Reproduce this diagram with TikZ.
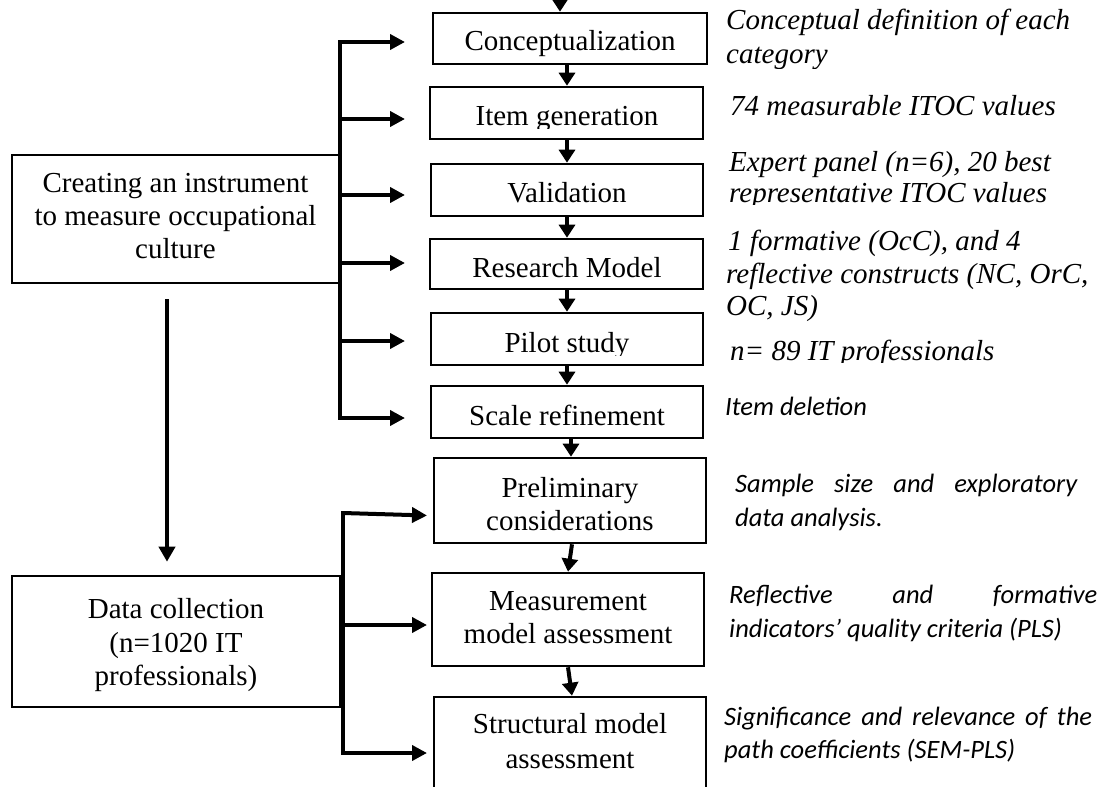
\documentclass[tikz,border=0pt]{standalone}
\usepackage{fontspec}
\setmainfont{Liberation Serif}
\newfontfamily\calib{Carlito}
\usetikzlibrary{arrows.meta}

\tikzset{
  box/.style={draw, line width=2.6pt, inner sep=0pt},
  boxtxt/.style={anchor=base, inner sep=0pt, font=\fontsize{29}{33}\selectfont},
  note/.style={anchor=base west, inner sep=0pt, font=\fontsize{29}{33}\selectfont\itshape},
  cnote/.style={anchor=base west, inner sep=0pt, font=\calib\fontsize{26.5}{32}\selectfont\itshape},
  link/.style={line width=4pt, -{Triangle[length=13pt,width=16pt]}},
  feed/.style={line width=4pt, -{Triangle[length=15pt,width=15pt]}},
  rail/.style={line width=4pt, line cap=rect},
}

\begin{document}
\begin{tikzpicture}[x=1pt, y=-1pt]
\useasboundingbox (0,0) rectangle (1109,787);
\clip (0,0) rectangle (1109,787);

% helper columns
\coordinate (top) at (560,-20);
\coordinate (ax) at (567,0);
\coordinate (bx) at (571,0);
\coordinate (tipA) at (405,0);
\coordinate (railB) at (343,0);
\coordinate (tipB) at (427,0);
\coordinate (vx) at (167,0);

% process steps
\node[box, minimum width=274pt, minimum height=51pt] (c1) at (570,38.5) {};
\node[box, minimum width=273pt, minimum height=52pt] (c2) at (566.5,113) {};
\node[box, minimum width=272pt, minimum height=52pt] (c3) at (567,190) {};
\node[box, minimum width=273pt, minimum height=50pt] (c4) at (566.5,264) {};
\node[box, minimum width=272pt, minimum height=52pt] (c5) at (567,339) {};
\node[box, minimum width=272pt, minimum height=52pt] (c6) at (567,412) {};
\node[box, minimum width=272pt, minimum height=85pt] (c7) at (570,500.5) {};
\node[box, minimum width=272pt, minimum height=93pt] (c8) at (568,619.5) {};
\node[box, minimum width=272pt, minimum height=96pt] (c9) at (570,745) {};

% phase boxes
\node[box, minimum width=327pt, minimum height=128pt] (L1) at (175.5,219) {};
\node[box, minimum width=328pt, minimum height=131pt] (L2) at (176,641.5) {};

% step labels
\node[boxtxt] (t1) at (570,50) {Conceptualization};
\begin{scope}
  \clip (430,90) rectangle (703,128);
  \node[boxtxt] (t2) at (567,125) {Item generation};
\end{scope}
\node[boxtxt] (t3) at (567,202) {Validation};
\node[boxtxt] (t4) at (567,277) {Research Model};
\begin{scope}
  \clip (430,316) rectangle (703,355);
  \node[boxtxt] (t5) at (567,352) {Pilot study};
\end{scope}
\node[boxtxt] (t6) at (567,425) {Scale refinement};
\node[boxtxt] (t7a) at (570,497) {Preliminary};
\node[boxtxt] (t7b) at (570,530) {considerations};
\node[boxtxt] (t8a) at (568,610) {Measurement};
\node[boxtxt] (t8b) at (568,643) {model assessment};
\node[boxtxt] (t9a) at (570,733) {Structural model};
\node[boxtxt] (t9b) at (570,768) {assessment};

\node[boxtxt] (u1a) at (175.5,192) {Creating an instrument};
\node[boxtxt] (u1b) at (175.5,225) {to measure occupational};
\node[boxtxt] (u1c) at (175.5,258) {culture};
\node[boxtxt] (u2a) at (176,618) {Data collection};
\node[boxtxt] (u2b) at (176,652) {(n=1020 IT};
\node[boxtxt] (u2c) at (176,685) {professionals)};

% notes beside the steps
\node[note] (n1a) at (726,29) {Conceptual definition of each};
\begin{scope}
  \clip (710,40) rectangle (1109,68);
  \node[note] (n1b) at (726,63) {category};
\end{scope}
\node[note] (n2) at (730,115) {74 measurable ITOC values};
\node[note] (n3a) at (729,171) {Expert panel (n=6), 20 best};
\begin{scope}
  \clip (710,178) rectangle (1109,204);
  \node[note] (n3b) at (729,202) {representative ITOC values};
\end{scope}
\node[note] (n4a) at (728,250) {1 formative (OcC), and 4};
\node[note] (n4b) at (726,283) {reflective constructs (NC, OrC,};
\node[note] (n4c) at (726,315) {OC, JS)};
\begin{scope}
  \clip (710,330) rectangle (1109,362);
  \node[note] (n5) at (730,360) {n= 89 IT professionals};
\end{scope}
\node[cnote] (n6) at (725,415) {Item deletion};
\node[cnote] (n7a) at (735,492) {\makebox[342pt][s]{Sample size and exploratory}};
\node[cnote] (n7b) at (735,526) {data analysis.};
\node[cnote] (n8a) at (729,603) {\makebox[368pt][s]{Reflective and formative}};
\node[cnote] (n8b) at (729,637) {indicators’ quality criteria (PLS)};
\node[cnote] (n9a) at (724,725) {\makebox[368pt][s]{Significance and relevance of the}};
\node[cnote] (n9b) at (724,758) {path coefficients (SEM-PLS)};

% step-to-step arrows
\draw[link] (top) -- (c1.north -| top);
\draw[link] (c1.south -| ax) -- (c2.north -| ax);
\draw[link] (c2.south -| ax) -- (c3.north -| ax);
\draw[link] (c3.south -| ax) -- (c4.north -| ax);
\draw[link] (c4.south -| ax) -- (c5.north -| ax);
\draw[link] (c5.south -| ax) -- (c6.north -| ax);
\draw[link] (c6.south -| bx) -- (c7.north -| bx);
\draw[link] ([xshift=2pt]c7.south) -- (c8.north);
\draw[link] (c8.south) -- ([xshift=2pt]c9.north);

% first phase feeding the instrument steps
\draw[rail] ([yshift=-3.5pt]c1.west -| L1.east) -- ([yshift=-6pt]c6.west -| L1.east);
\draw[feed] ([yshift=-3.5pt]c1.west -| L1.east) -- ([yshift=-3.5pt]c1.west -| tipA);
\draw[feed] ([yshift=-6pt]c2.west -| L1.east) -- ([yshift=-6pt]c2.west -| tipA);
\draw[feed] ([yshift=-5pt]c3.west -| L1.east) -- ([yshift=-5pt]c3.west -| tipA);
\draw[feed] ([yshift=1pt]c4.west -| L1.east) -- ([yshift=1pt]c4.west -| tipA);
\draw[feed] ([yshift=-2pt]c5.west -| L1.east) -- ([yshift=-2pt]c5.west -| tipA);
\draw[feed] ([yshift=-6pt]c6.west -| L1.east) -- ([yshift=-6pt]c6.west -| tipA);

% first phase to second phase
\draw[feed, -{Triangle[length=15pt,width=16pt]}] ([yshift=-15pt]L1.south -| vx) -- ([yshift=13pt]L2.north -| vx);

% second phase feeding the analysis steps
\draw[rail] ([yshift=-12.5pt]c7.west -| railB) -- ([yshift=-8pt]c9.west -| railB);
\draw[feed] ([yshift=-12.5pt]c7.west -| railB) -- ([yshift=-15pt]c7.west -| tipB);
\draw[feed] ([yshift=-5.5pt]c8.west -| railB) -- ([yshift=-5.5pt]c8.west -| tipB);
\draw[feed] ([yshift=-8pt]c9.west -| railB) -- ([yshift=-8pt]c9.west -| tipB);
\end{tikzpicture}
\end{document}
